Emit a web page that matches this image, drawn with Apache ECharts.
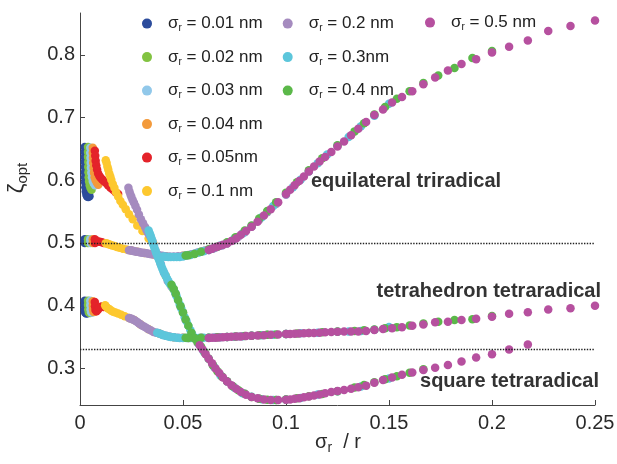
<!DOCTYPE html>
<html><head><meta charset="utf-8">
<script src="https://cdn.jsdelivr.net/npm/echarts@6/dist/echarts.min.js"></script>
<style>html,body{margin:0;padding:0;background:#fff}#c{width:617px;height:464px}</style>
</head><body><div id="c"></div>
<script>
// ---------- DATA ----------
const seriesNames = ['0.01 nm','0.02 nm','0.03 nm','0.04 nm','0.05nm','0.1 nm','0.2 nm','0.3nm','0.4 nm','0.5 nm'];
const xTicks = [0, 0.05, 0.1, 0.15, 0.2, 0.25];
const yTicks = [0.3, 0.4, 0.5, 0.6, 0.7, 0.8];
const refLines = [0.5, 1/3];

// sigma_r = 0.01 nm
const s001Sq = [[0.0023,0.653],[0.0023,0.645],[0.0023,0.637],[0.0023,0.629],[0.0024,0.621],[0.0024,0.613],[0.0024,0.605],[0.0025,0.597],[0.0026,0.589],[0.0028,0.582],[0.0031,0.577],[0.0035,0.574],[0.004,0.5735],[0.0046,0.5745]];
const s001Tri = [[0.0023,0.506],[0.0023,0.5],[0.0027,0.502],[0.0033,0.5015]];
const s001Tet = [[0.0023,0.408],[0.0023,0.401],[0.0023,0.394],[0.0025,0.389],[0.003,0.3875],[0.0036,0.388]];
// 0.02 nm
const s002Sq = [[0.0039,0.653],[0.0039,0.645],[0.0039,0.637],[0.004,0.629],[0.004,0.621],[0.0041,0.613],[0.0042,0.605],[0.0044,0.598],[0.0047,0.592],[0.0051,0.588],[0.0056,0.585]];
const s002Tri = [[0.0039,0.506],[0.0039,0.5],[0.0044,0.502]];
const s002Tet = [[0.0039,0.408],[0.0039,0.401],[0.004,0.394],[0.0043,0.389],[0.0049,0.3885]];
// 0.03 nm
const s003Sq = [[0.005,0.652],[0.005,0.644],[0.0051,0.636],[0.0052,0.628],[0.0053,0.62],[0.0055,0.612],[0.0058,0.605],[0.0062,0.599],[0.0067,0.595],[0.0073,0.592]];
const s003Tri = [[0.005,0.506],[0.005,0.5],[0.0055,0.502]];
const s003Tet = [[0.005,0.408],[0.005,0.401],[0.0051,0.394],[0.0054,0.3895],[0.006,0.389]];
// 0.04 nm
const s004Sq = [[0.0062,0.652],[0.0062,0.644],[0.0063,0.636],[0.0064,0.628],[0.0066,0.62],[0.0068,0.612],[0.0071,0.605],[0.0076,0.6],[0.0082,0.596],[0.0089,0.593]];
const s004Tri = [[0.0062,0.506],[0.0062,0.5],[0.0067,0.502]];
const s004Tet = [[0.0062,0.407],[0.0062,0.4],[0.0063,0.394],[0.0066,0.39],[0.0072,0.3905]];
// 0.05 nm
const s005Sq = [[0.0072,0.647],[0.0074,0.639],[0.0076,0.631],[0.0079,0.624],[0.0083,0.617],[0.0088,0.611],[0.0094,0.607],[0.01,0.604],[0.0107,0.6015],[0.0115,0.599],[0.0125,0.596],[0.0136,0.592],[0.0148,0.588],[0.016,0.585],[0.0173,0.581],[0.0185,0.578]];
const s005Tri = [[0.0072,0.506],[0.0073,0.5],[0.0079,0.502],[0.0087,0.5025],[0.0096,0.502],[0.0106,0.501],[0.0116,0.5]];
const s005Tet = [[0.0072,0.406],[0.0073,0.399],[0.0075,0.393],[0.008,0.391],[0.0087,0.3935],[0.0095,0.397],[0.0104,0.3985],[0.0114,0.398]];
// 0.1 nm
const s01Sq = [[0.0125,0.632],[0.0129,0.628],[0.0133,0.622],[0.0137,0.617],[0.0142,0.611],[0.0147,0.606],[0.0152,0.601],[0.0159,0.594],[0.0167,0.588],[0.0175,0.581],[0.0185,0.574],[0.0196,0.567],[0.0208,0.561],[0.0222,0.554],[0.0238,0.546],[0.0256,0.538],[0.0278,0.528],[0.0303,0.519],[0.0333,0.507],[0.0357,0.499],[0.0385,0.474],[0.0417,0.447],[0.0455,0.426],[0.05,0.389]];
const s01Tri = [[0.0125,0.4995],[0.0132,0.499],[0.0139,0.498],[0.0147,0.497],[0.0156,0.496],[0.0167,0.495],[0.0179,0.4935],[0.0192,0.4925],[0.0208,0.491],[0.0227,0.4895],[0.025,0.488],[0.0278,0.486],[0.0313,0.484],[0.0357,0.4815],[0.0417,0.479],[0.05,0.4795]];
const s01Tet = [[0.0122,0.4005],[0.0128,0.398],[0.0135,0.396],[0.0143,0.3945],[0.0152,0.392],[0.0161,0.3905],[0.0172,0.389],[0.0185,0.3875],[0.02,0.3855],[0.0217,0.383],[0.0238,0.3805],[0.0263,0.377],[0.0294,0.37],[0.0333,0.3625],[0.0385,0.3555],[0.0455,0.3497],[0.05,0.3487]];
// 0.2 nm
const s02Sq = [[0.0235,0.588],[0.024,0.582],[0.0245,0.5775],[0.025,0.573],[0.0256,0.568],[0.0262,0.564],[0.0269,0.559],[0.0277,0.553],[0.0286,0.5455],[0.0296,0.538],[0.0306,0.5315],[0.0316,0.5255],[0.0323,0.5205],[0.033,0.516],[0.0338,0.512],[0.0345,0.508],[0.0352,0.5025],[0.0359,0.496],[0.0366,0.488],[0.0377,0.479],[0.0392,0.4665],[0.0408,0.4525],[0.0426,0.4395],[0.0444,0.4305],[0.0465,0.418],[0.0488,0.3985],[0.0513,0.377],[0.0541,0.356],[0.0571,0.341],[0.0606,0.3245],[0.0645,0.305],[0.069,0.2865],[0.0741,0.2715],[0.08,0.2595],[0.087,0.2515],[0.0952,0.2495],[0.1,0.2502]];
const s02Tri = [[0.1,0.577],[0.0952,0.562],[0.0909,0.549],[0.087,0.537],[0.0833,0.526],[0.08,0.517],[0.0769,0.51],[0.0741,0.504],[0.0714,0.499],[0.069,0.496],[0.0667,0.494],[0.0645,0.491],[0.0625,0.489],[0.0606,0.488],[0.0588,0.4865],[0.0571,0.485],[0.0556,0.483],[0.0541,0.482],[0.0526,0.481],[0.0513,0.48],[0.05,0.4795],[0.0476,0.479],[0.0455,0.4785],[0.0435,0.4785],[0.0417,0.479],[0.04,0.4795],[0.0385,0.4805],[0.037,0.481],[0.0357,0.4815],[0.0345,0.482],[0.0333,0.483],[0.0323,0.4835],[0.0313,0.484],[0.0303,0.4845],[0.0294,0.485],[0.0286,0.4855],[0.0278,0.486],[0.027,0.4865],[0.0263,0.487],[0.0256,0.4875],[0.025,0.488],[0.0244,0.4883],[0.0238,0.4886]];
const s02Tet = [[0.1,0.3548],[0.0909,0.3535],[0.0833,0.352],[0.0769,0.351],[0.0714,0.35],[0.0667,0.3495],[0.0625,0.349],[0.0588,0.3487],[0.0556,0.3485],[0.0526,0.3485],[0.05,0.3487],[0.0476,0.349],[0.0455,0.3497],[0.0435,0.3507],[0.0417,0.352],[0.04,0.3537],[0.0385,0.3555],[0.037,0.3568],[0.0357,0.358],[0.0345,0.3605],[0.0333,0.3625],[0.0323,0.3645],[0.0313,0.3665],[0.0303,0.368],[0.0294,0.37],[0.0286,0.372],[0.0278,0.374],[0.027,0.3755],[0.0263,0.377],[0.0256,0.378],[0.025,0.379],[0.0244,0.3797],[0.0238,0.3805]];
// 0.3 nm
const s03Sq = [[0.15,0.284],[0.1364,0.271],[0.125,0.2635],[0.1154,0.2585],[0.1071,0.2528],[0.1,0.25],[0.0938,0.2495],[0.0882,0.2508],[0.0833,0.2548],[0.0789,0.2605],[0.075,0.269],[0.0714,0.279],[0.0682,0.2885],[0.0652,0.302],[0.0625,0.3155],[0.06,0.3275],[0.0577,0.339],[0.0556,0.3475],[0.0545,0.354],[0.0536,0.361],[0.0526,0.368],[0.0517,0.375],[0.0508,0.382],[0.05,0.389],[0.0492,0.3955],[0.0484,0.402],[0.0476,0.409],[0.0469,0.415],[0.0462,0.4205],[0.0455,0.426],[0.0448,0.43],[0.0441,0.4335],[0.0435,0.4355],[0.0429,0.439],[0.0423,0.443],[0.0417,0.447],[0.0411,0.451],[0.0405,0.455],[0.04,0.459],[0.0395,0.463],[0.039,0.4675],[0.0385,0.472],[0.038,0.476],[0.0375,0.48],[0.037,0.484],[0.0366,0.488],[0.0361,0.4925],[0.0357,0.497],[0.0353,0.501],[0.0349,0.505],[0.0345,0.509],[0.0341,0.513],[0.0337,0.5165],[0.0333,0.52]];
const s03Tri = [[0.15,0.722],[0.1429,0.703],[0.1364,0.686],[0.1304,0.669],[0.125,0.655],[0.12,0.641],[0.1154,0.627],[0.1111,0.614],[0.1071,0.601],[0.1034,0.589],[0.1,0.578],[0.0938,0.559],[0.0882,0.541],[0.0833,0.527],[0.0789,0.515],[0.075,0.507],[0.0714,0.5],[0.0682,0.496],[0.0652,0.492],[0.0625,0.489],[0.06,0.487],[0.0577,0.485],[0.0556,0.483],[0.0536,0.481],[0.0517,0.48],[0.05,0.4785],[0.0484,0.4778],[0.0469,0.4775],[0.0455,0.4775],[0.0441,0.4775],[0.0429,0.4775],[0.0417,0.478],[0.0405,0.4785]];
const s03Tet = [[0.15,0.366],[0.1429,0.3615],[0.1364,0.3595],[0.1304,0.3588],[0.125,0.3585],[0.1154,0.357],[0.1071,0.356],[0.1,0.3548],[0.0938,0.3538],[0.0882,0.3528],[0.0833,0.352],[0.0789,0.3513],[0.075,0.3506],[0.0714,0.35],[0.0682,0.3496],[0.0652,0.3492],[0.0625,0.349],[0.06,0.3487],[0.0577,0.3486],[0.0556,0.3485],[0.0536,0.3485],[0.0517,0.3485],[0.05,0.3485],[0.0484,0.3486],[0.0469,0.349],[0.0455,0.3495],[0.0441,0.35],[0.0429,0.351],[0.0417,0.352],[0.0405,0.353],[0.0395,0.3545],[0.0385,0.3555],[0.0375,0.3568]];
// 0.4 nm
const s04Sq = [[0.1667,0.2985],[0.16,0.293],[0.1538,0.2875],[0.1481,0.2825],[0.1429,0.278],[0.1379,0.2735],[0.1333,0.2695],[0.125,0.2635],[0.1176,0.259],[0.1111,0.2555],[0.1053,0.2525],[0.1,0.2505],[0.0952,0.2495],[0.0909,0.2498],[0.087,0.2515],[0.0833,0.2545],[0.08,0.2595],[0.0769,0.265],[0.0741,0.2715],[0.0714,0.2795],[0.069,0.2865],[0.0667,0.2955],[0.0645,0.305],[0.0625,0.3155],[0.0606,0.3255],[0.0588,0.3345],[0.0571,0.3415],[0.0556,0.3475],[0.0541,0.357],[0.0526,0.368],[0.0513,0.378],[0.05,0.389],[0.0488,0.399],[0.0476,0.409],[0.0465,0.419],[0.0455,0.4265],[0.0444,0.4335]];
const s04Tri = [[0.2,0.806],[0.1905,0.795],[0.1818,0.779],[0.1739,0.767],[0.1667,0.755],[0.16,0.742],[0.1538,0.73],[0.1481,0.717],[0.1429,0.705],[0.1379,0.691],[0.1333,0.678],[0.125,0.656],[0.1176,0.635],[0.1111,0.616],[0.1053,0.597],[0.1,0.58],[0.0952,0.565],[0.0909,0.551],[0.087,0.539],[0.0833,0.528],[0.08,0.52],[0.0755,0.509],[0.0714,0.501],[0.0667,0.494],[0.0625,0.49],[0.0588,0.486],[0.0556,0.4825],[0.0526,0.4805],[0.0513,0.48]];
const s04Tet = [[0.2,0.3835],[0.1905,0.3785],[0.1818,0.377],[0.1739,0.3745],[0.1667,0.3715],[0.16,0.3685],[0.1538,0.3658],[0.1481,0.364],[0.1429,0.3622],[0.1379,0.361],[0.1333,0.3598],[0.125,0.3588],[0.1176,0.3575],[0.1111,0.3565],[0.1053,0.3556],[0.1,0.3548],[0.0952,0.3541],[0.0909,0.3535],[0.087,0.3528],[0.0833,0.3522],[0.08,0.3516],[0.0755,0.3508],[0.0714,0.3502],[0.0667,0.3495],[0.0625,0.349],[0.0588,0.3487],[0.0556,0.3486],[0.0526,0.3486],[0.0513,0.3487]];
// 0.5 nm
const s05Tri = [[0.25,0.855],[0.2381,0.846],[0.2273,0.838],[0.2174,0.823],[0.2083,0.813],[0.2,0.804],[0.1923,0.793],[0.1852,0.7855],[0.1786,0.775],[0.1724,0.764],[0.1667,0.753],[0.1613,0.742],[0.1563,0.733],[0.1515,0.724],[0.1471,0.713],[0.1429,0.704],[0.1389,0.693],[0.1351,0.682],[0.1316,0.672],[0.1282,0.662],[0.125,0.654],[0.122,0.645],[0.119,0.637],[0.1163,0.63],[0.1136,0.622],[0.1111,0.614],[0.1087,0.606],[0.1064,0.599],[0.1042,0.592],[0.102,0.585],[0.1,0.578],[0.0962,0.565],[0.0926,0.554],[0.0893,0.544],[0.0862,0.534],[0.0833,0.526],[0.0806,0.519],[0.0781,0.513],[0.0758,0.507],[0.0735,0.503],[0.0714,0.499],[0.0694,0.497],[0.0676,0.495],[0.0658,0.493],[0.0641,0.491],[0.0625,0.489]];
const s05Tet = [[0.25,0.4],[0.2381,0.396],[0.2273,0.394],[0.2174,0.3895],[0.2083,0.387],[0.2,0.3825],[0.1923,0.379],[0.1852,0.377],[0.1786,0.3745],[0.1724,0.3735],[0.1667,0.37],[0.1613,0.368],[0.1563,0.3656],[0.1515,0.364],[0.1471,0.3628],[0.1429,0.3612],[0.1389,0.3597],[0.1351,0.359],[0.1316,0.3588],[0.1282,0.3587],[0.125,0.3585],[0.122,0.358],[0.119,0.3575],[0.1163,0.357],[0.1136,0.3566],[0.1111,0.3563],[0.1087,0.356],[0.1064,0.3557],[0.1042,0.3553],[0.102,0.355],[0.1,0.3547],[0.0962,0.3541],[0.0926,0.3535],[0.0893,0.353],[0.0862,0.3525],[0.0833,0.352],[0.0806,0.3515],[0.0781,0.351],[0.0758,0.3507],[0.0735,0.3504],[0.0714,0.35],[0.0694,0.3496],[0.0676,0.3493],[0.0658,0.349],[0.0641,0.3488],[0.0625,0.3485]];
const s05Sq = [[0.2174,0.338],[0.2083,0.33],[0.2,0.3225],[0.1923,0.3175],[0.1852,0.311],[0.1786,0.3055],[0.1724,0.301],[0.1667,0.2975],[0.1613,0.2935],[0.1563,0.29],[0.1515,0.2855],[0.1471,0.2815],[0.1429,0.277],[0.1389,0.2725],[0.1351,0.27],[0.1316,0.2675],[0.1282,0.2655],[0.125,0.264],[0.122,0.2622],[0.119,0.2605],[0.1163,0.2585],[0.1136,0.2567],[0.1111,0.2553],[0.1087,0.2538],[0.1064,0.2525],[0.1042,0.2515],[0.102,0.2505],[0.1,0.25],[0.0962,0.2495],[0.0926,0.2495],[0.0893,0.2505],[0.0862,0.2525],[0.0833,0.2545],[0.0806,0.258],[0.0781,0.2625],[0.0758,0.2675],[0.0735,0.273],[0.0714,0.279],[0.0694,0.2855],[0.0676,0.2925],[0.0658,0.3],[0.0641,0.308],[0.0625,0.3155],[0.061,0.3225],[0.0595,0.33],[0.0581,0.337]];

const seriesData = [
  [...s001Sq, ...s001Tri, ...s001Tet],
  [...s002Sq, ...s002Tri, ...s002Tet],
  [...s003Sq, ...s003Tri, ...s003Tet],
  [...s004Sq, ...s004Tri, ...s004Tet],
  [...s005Sq, ...s005Tri, ...s005Tet],
  [...s01Sq, ...s01Tri, ...s01Tet],
  [...s02Sq, ...s02Tri, ...s02Tet],
  [...s03Sq, ...s03Tri, ...s03Tet],
  [...s04Sq, ...s04Tri, ...s04Tet],
  [...s05Tri, ...s05Tet, ...s05Sq]
];

// ---------- STYLE ----------
const colors = ['#2c4c9c','#82c341','#91c8ea','#f39a3b','#e4232a','#fdc82f','#a58bbf','#5cc6db','#5bb849','#b6509f'];
const FONT = 'Liberation Sans';
const txt = '#2a2a2a';

const chart = echarts.init(document.getElementById('c'), null, {renderer: 'canvas'});
const legendRich = {
  a: {fontFamily: FONT, fontSize: 17, lineHeight: 20, color: '#222'},
  b: {fontFamily: FONT, fontSize: 10, lineHeight: 10, color: '#222', verticalAlign: 'bottom'}
};
function mkLegend(items, left, top) {
  return {
    data: items, left: left, top: top, orient: 'vertical', itemGap: 15.0,
    itemWidth: 32, itemHeight: 10, icon: 'circle', selectedMode: false,
    formatter: n => '{a|σ}{b|r}{a| = ' + n + '}',
    textStyle: {fontFamily: FONT, fontSize: 17, color: '#222', rich: legendRich}
  };
}

const series = seriesNames.map((n, i) => ({
  type: 'scatter', name: n, data: seriesData[i], symbol: 'circle', symbolSize: 8.5,
  itemStyle: {color: colors[i], opacity: 1}, emphasis: {disabled: true}, silent: true
}));
series[series.length - 1].markLine = {
  silent: true, symbol: 'none', label: {show: false}, animation: false,
  lineStyle: {type: 'dotted', color: '#222', width: 1.4},
  data: refLines.map(v => ({yAxis: v}))
};

chart.setOption({
  animation: false,
  backgroundColor: '#fff',
  grid: {left: 80, right: 22, top: 13, bottom: 59, containLabel: false, outerBoundsMode: 'none'},
  legend: [
    mkLegend(seriesNames.slice(0, 6), 137, 10.1),
    mkLegend(seriesNames.slice(6, 9), 277.7, 10.1),
    mkLegend(seriesNames.slice(9), 420, 9.1)
  ],
  xAxis: {
    type: 'value', min: xTicks[0], max: xTicks[xTicks.length - 1], interval: 0.05,
    axisLine: {show: true, onZero: false, lineStyle: {color: '#444', width: 1}},
    axisTick: {show: true, inside: true, length: 5, lineStyle: {color: '#444'}},
    splitLine: {show: false},
    axisLabel: {fontFamily: FONT, fontSize: 20, color: txt, margin: 8}
  },
  yAxis: {
    type: 'value', min: 0.2416, max: 0.8668,
    axisLine: {show: true, lineStyle: {color: '#444', width: 1}},
    axisTick: {show: true, inside: true, length: 5, lineStyle: {color: '#444'}, customValues: yTicks},
    splitLine: {show: false},
    axisLabel: {fontFamily: FONT, fontSize: 20, color: txt, margin: 5, customValues: yTicks}
  },
  graphic: [
    {type: 'text', x: 17, y: 178, rotation: Math.PI / 2, silent: true,
     style: {text: '{z|ζ}{o|opt}', align: 'center', verticalAlign: 'middle',
       rich: {z: {fontFamily: FONT, fontSize: 22, lineHeight: 26, fill: txt},
              o: {fontFamily: FONT, fontSize: 15, lineHeight: 15, fill: txt, verticalAlign: 'bottom'}}}},
    {type: 'text', x: 338, y: 442, silent: true,
     style: {text: '{s|σ}{r|r}{s|  / r}', align: 'center', verticalAlign: 'middle',
       rich: {s: {fontFamily: FONT, fontSize: 20, lineHeight: 26, fill: txt},
              r: {fontFamily: FONT, fontSize: 14, lineHeight: 14, fill: txt, verticalAlign: 'bottom'}}}},
    {type: 'text', x: 311, y: 181.5, silent: true,
     style: {text: 'equilateral triradical', font: 'bold 20px "Liberation Sans"', fill: '#333', align: 'left', verticalAlign: 'middle'}},
    {type: 'text', x: 601, y: 291, silent: true,
     style: {text: 'tetrahedron tetraradical', font: 'bold 20px "Liberation Sans"', fill: '#333', align: 'right', verticalAlign: 'middle'}},
    {type: 'text', x: 599, y: 381.5, silent: true,
     style: {text: 'square tetraradical', font: 'bold 20px "Liberation Sans"', fill: '#333', align: 'right', verticalAlign: 'middle'}}
  ],
  series: series
});
</script></body></html>
